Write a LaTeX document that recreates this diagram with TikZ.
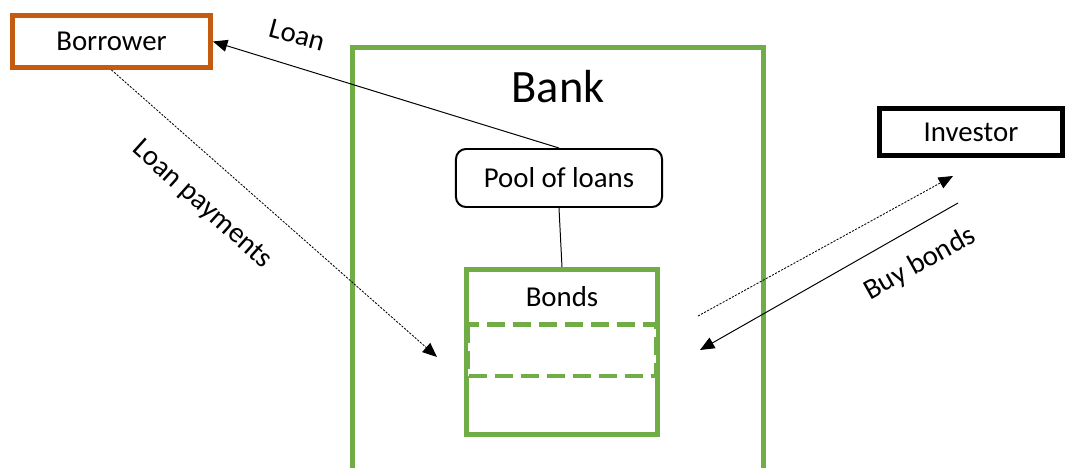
\documentclass[tikz,border=0pt]{standalone}
\usepackage{fontspec}
\setmainfont{Carlito}
\usetikzlibrary{arrows.meta}
\definecolor{bankgreen}{RGB}{112,173,71}
\definecolor{borrowerorange}{RGB}{197,90,17}

\begin{document}
\begin{tikzpicture}[x=0.025cm,y=-0.025cm,
  box/.style={draw,line width=3.5pt,minimum width=#1,inner sep=0pt,font=\fontsize{20.5}{24}\selectfont},
  lbl/.style={font=\fontsize{20.5}{24}\selectfont,inner sep=0pt},
  tip/.style={-{Triangle[length=0.36cm,width=0.3cm]}},
  dots/.style={dash pattern=on 1.5pt off 1pt,line width=0.6pt}]
\clip (0,0) rectangle (1068,468);
\fill[white] (0,0) rectangle (1068,468);
% Bank
\draw[bankgreen,line width=3.5pt] (352.5,47.5) rectangle (763.5,500);
\node[lbl,font=\fontsize{33}{38}\selectfont] (bank) at (558,87) {Bank};
\node[box=5.15cm,draw=black,line width=1.4pt,rounded corners=0.25cm,minimum height=1.45cm] (pool) at (559,178) {Pool of loans};
\node[box=4.78cm,draw=bankgreen,minimum height=4.12cm] (bonds) at (562,352) {};
\node[lbl] (bondstext) at (562,297) {Bonds};
\draw[fill=white,draw=bankgreen,line width=3.5pt,dash pattern=on 0.45cm off 0.2cm] (468,324.5) rectangle (656,376);
\draw[line width=0.7pt] (pool.south) -- (bonds.north);
% Borrower and investor
\node[box=4.95cm,draw=borrowerorange,minimum height=1.3cm] (borrower) at (111.5,41.5) {Borrower};
\node[box=4.58cm,minimum height=1.18cm] (investor) at (971,132) {Investor};
% flows
\coordinate (payin) at (437,357);
\coordinate (bondout) at (698,316);
\coordinate (bondtip) at (953,176);
\coordinate (buystart) at (958,203);
\coordinate (buyin) at (700,350);
\draw[tip,line width=0.7pt] (pool.north) -- (borrower.east);
\node[lbl,rotate=-15] (loan) at (297,35) {Loan};
\draw[tip,dots] (borrower.south) -- (payin);
\node[lbl,rotate=-42] (payments) at (202,205) {Loan payments};
\draw[tip,dots] (bondout) -- (bondtip);
\draw[tip,line width=0.7pt] (buystart) -- (buyin);
\node[lbl,rotate=29] (buy) at (920,264) {Buy bonds};
\end{tikzpicture}
\end{document}
